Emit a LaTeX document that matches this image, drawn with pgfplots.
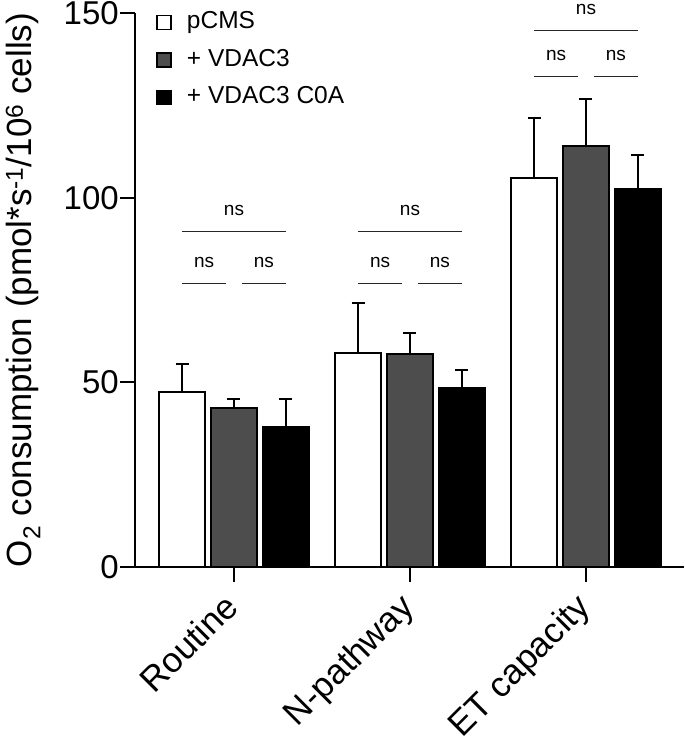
\documentclass[border=0pt]{standalone}
\usepackage{fontspec}
\setmainfont{Liberation Sans}
\usepackage{pgfplots}
\pgfplotsset{compat=1.18}
\definecolor{vgray}{HTML}{4D4D4D}
\pgfplotsset{sqleg/.style={legend image code/.code={\draw[##1, line width=1.5pt] (0pt,-7pt) rectangle (14pt,7pt);}}}
\tikzset{sig/.style={line width=1.2pt, black!85},
  nslab/.style={font=\fontsize{19}{22}\selectfont, anchor=base, yshift=16pt}}
\begin{document}
\begin{tikzpicture}
\begin{axis}[
  at={(0,0)}, anchor=south west,
  scale only axis, width=549pt, height=554pt,
  xmin=-0.5625, xmax=2.557, ymin=0, ymax=150,
  clip=false,
  axis lines*=left,
  axis line style={-, line width=2pt, black},
  ytick={0,50,100,150},
  xtick={0,1,2},
  xticklabels={Routine,N-pathway,ET capacity},
  tick align=outside, major tick length=15pt,
  tick style={line width=2pt, black},
  /pgf/number format/assume math mode=true,
  ticklabel style={font=\fontsize{33}{38}\selectfont},
  yticklabel style={inner sep=1pt},
  xticklabel style={font=\fontsize{35}{40}\selectfont, anchor=north east, inner sep=0pt, xshift=-12pt, yshift=-9pt, rotate=45},
  ylabel={O\textsubscript{2} consumption (pmol*s\textsuperscript{-1}/10\textsuperscript{6} cells)},
  ylabel style={font=\fontsize{35}{40}\selectfont, at={(axis description cs:0,0.5)}, anchor=center, yshift=112pt},
  ybar, bar width=0.261,
  legend style={at={(axis description cs:0.0387,1)}, anchor=north west, yshift=1.5pt, draw=none, fill=none,
    inner sep=0pt, font=\fontsize{24.5}{28}\selectfont, row sep=15.5pt, column sep=15pt,
    nodes={inner sep=0pt, text height=17pt, text depth=5pt}},
  legend cell align=left,
  error bars/y dir=plus, error bars/y explicit,
  error bars/error bar style={line width=2pt, black},
  error bars/error mark options={line width=2pt, black, mark size=6.5pt, rotate=90},
]
\addplot[fill=white, draw=black, line width=2pt, bar shift=-0.295, sqleg]
  coordinates {(0,47.5) +- (0,7.4) (1,57.9) +- (0,13.5) (2,105.2) +- (0,16.3)};
\addlegendentry{pCMS}
\addplot[fill=vgray, draw=black, line width=2pt, bar shift=0, sqleg]
  coordinates {(0,43.1) +- (0,2.3) (1,57.6) +- (0,5.7) (2,114.1) +- (0,12.6)};
\addlegendentry{+ VDAC3}
\addplot[fill=black, draw=black, line width=2pt, bar shift=0.295, sqleg]
  coordinates {(0,38.0) +- (0,7.5) (1,48.6) +- (0,4.7) (2,102.4) +- (0,9.2)};
\addlegendentry{+ VDAC3 C0A}
% significance annotations
\draw[sig] (axis cs:-0.295,90.8) -- (axis cs:0.295,90.8);
\draw[sig] (axis cs:-0.295,76.8) -- (axis cs:-0.045,76.8);
\draw[sig] (axis cs:0.045,76.8) -- (axis cs:0.295,76.8);
\node[nslab] at (axis cs:0,90.8) {ns};
\node[nslab] at (axis cs:-0.17,76.8) {ns};
\node[nslab] at (axis cs:0.17,76.8) {ns};
\draw[sig] (axis cs:0.705,90.8) -- (axis cs:1.295,90.8);
\draw[sig] (axis cs:0.705,76.8) -- (axis cs:0.955,76.8);
\draw[sig] (axis cs:1.045,76.8) -- (axis cs:1.295,76.8);
\node[nslab] at (axis cs:1,90.8) {ns};
\node[nslab] at (axis cs:0.83,76.8) {ns};
\node[nslab] at (axis cs:1.17,76.8) {ns};
\draw[sig] (axis cs:1.705,145.2) -- (axis cs:2.295,145.2);
\draw[sig] (axis cs:1.705,132.8) -- (axis cs:1.955,132.8);
\draw[sig] (axis cs:2.045,132.8) -- (axis cs:2.295,132.8);
\node[nslab] at (axis cs:2,145.2) {ns};
\node[nslab] at (axis cs:1.83,132.8) {ns};
\node[nslab] at (axis cs:2.17,132.8) {ns};
\end{axis}
\pgfresetboundingbox
\useasboundingbox (-135pt,-170pt) rectangle (550pt,567pt);
\end{tikzpicture}
\end{document}
